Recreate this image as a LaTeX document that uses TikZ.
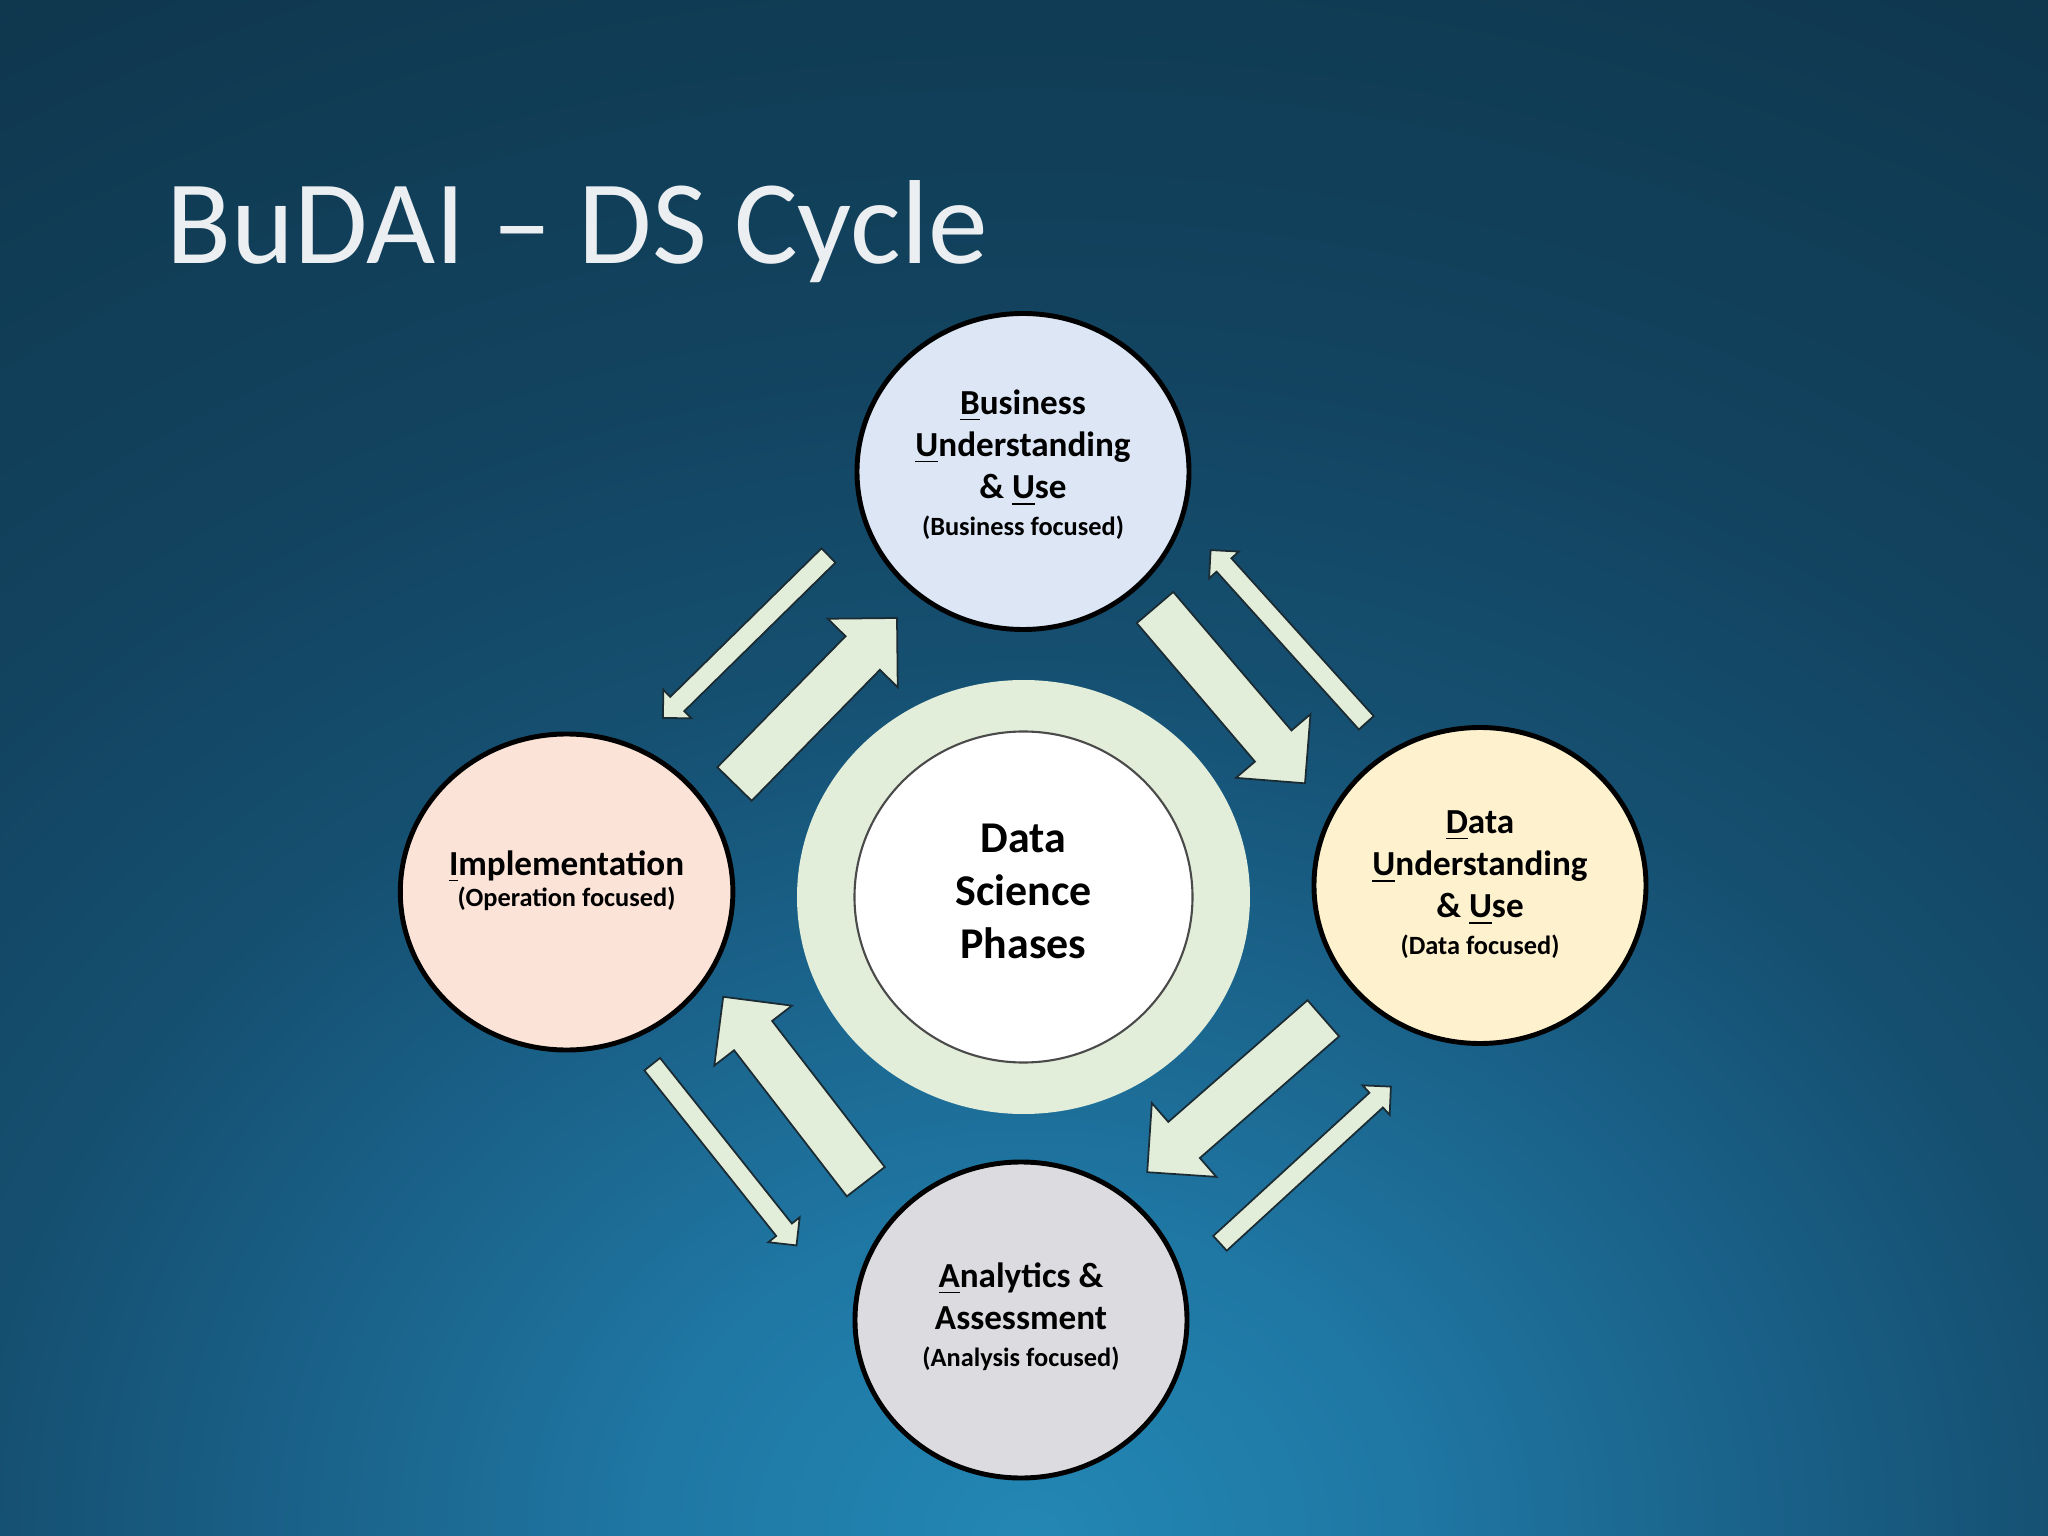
\documentclass[tikz,border=0pt]{standalone}
\usepackage{fontspec}
\setmainfont{Carlito}
\usepackage{tikz}
\usetikzlibrary{calc,shapes.geometric}

\definecolor{bgtop}{HTML}{0F374E}
\definecolor{bgmid}{HTML}{12435F}
\definecolor{bgdeep}{HTML}{154F70}
\definecolor{bglow}{HTML}{1A628A}
\definecolor{bgglow}{HTML}{1F77A3}
\definecolor{bghot}{HTML}{2387B4}
\definecolor{titlecol}{HTML}{ECEFF1}
\definecolor{arrgreen}{HTML}{E2EED9}
\definecolor{arrline}{HTML}{1B2B33}
\definecolor{hubline}{HTML}{4A4A4A}
\definecolor{bizblue}{HTML}{DCE6F5}
\definecolor{datayellow}{HTML}{FDF1CE}
\definecolor{implpeach}{HTML}{FBE3D7}
\definecolor{anagray}{HTML}{DCDBE0}

\pgfdeclareradialshading{slidebg}{\pgfpoint{0bp}{0bp}}{color(0bp)=(bghot); color(4bp)=(bgglow); color(7.5bp)=(bglow); color(11bp)=(bgdeep); color(15bp)=(bgmid); color(22bp)=(bgtop); color(50bp)=(bgtop)}

\newcommand{\focus}[1]{{\fontsize{7.5}{9}\selectfont #1}}
\newcommand{\lift}[1]{\rule[-#1]{0pt}{#1}}
\newcommand{\blockarrow}[4]{%
  \coordinate (hb) at ($(#2)!#4!(#1)$);
  \draw[arrowfill] ($(#1)!#3!90:(#2)$) -- ($(hb)!#3!90:(#2)$) -- ($(hb)!#4!90:(#2)$) -- (#2)
    -- ($(hb)!#4!-90:(#2)$) -- ($(hb)!#3!-90:(#2)$) -- ($(#1)!#3!-90:(#2)$) -- cycle;}

\begin{document}
\begin{tikzpicture}[
    phase/.style={ellipse, draw=black, line width=1.4pt, minimum width=3.32cm, minimum height=3.16cm,
      inner sep=0pt, align=center, font=\fontsize{10}{12}\selectfont\bfseries},
    arrowfill/.style={fill=arrgreen, draw=arrline, line width=0.5pt, line join=miter}]
  \useasboundingbox (0,0) rectangle (20.48,-15.36);
  \begin{scope}
    \clip (0,0) rectangle (20.48,-15.36);
    \shade[shading=slidebg] (10.3,-15.36) ellipse (24 and 20);
  \end{scope}

  \node[anchor=base west, inner sep=0pt, text=titlecol, font=\fontsize{34}{40}\selectfont] (title) at (1.66,-2.64) {BuDAI – DS Cycle};

  \node[ellipse, fill=arrgreen, minimum width=4.53cm, minimum height=4.34cm, inner sep=0pt] (ring) at (10.235,-8.97) {};
  \node[ellipse, fill=white, draw=hubline, line width=0.6pt, minimum width=3.38cm, minimum height=3.31cm,
    inner sep=0pt, align=center, font=\fontsize{12.5}{15}\selectfont\bfseries] (hub) at (ring.center) {Data\\Science\\Phases\lift{3.2pt}};

  \coordinate (tl1) at (7.345,-7.84);  \coordinate (tl2) at (8.97,-6.18);
  \coordinate (tl3) at (8.285,-5.555); \coordinate (tl4) at (6.63,-7.18);
  \coordinate (tr1) at (11.55,-6.075); \coordinate (tr2) at (13.05,-7.833);
  \coordinate (tr3) at (13.663,-7.228); \coordinate (tr4) at (12.106,-5.501);
  \coordinate (bl1) at (8.658,-11.817); \coordinate (bl2) at (7.232,-9.968);
  \coordinate (bl3) at (6.522,-10.642); \coordinate (bl4) at (7.965,-12.454);
  \coordinate (br1) at (13.233,-10.183); \coordinate (br2) at (11.472,-11.722);
  \coordinate (br3) at (12.20,-12.433); \coordinate (br4) at (13.909,-10.866);

  \blockarrow{tl1}{tl2}{0.24cm}{0.49cm}
  \blockarrow{tl3}{tl4}{0.10cm}{0.20cm}
  \blockarrow{tr1}{tr2}{0.24cm}{0.49cm}
  \blockarrow{tr3}{tr4}{0.10cm}{0.20cm}
  \blockarrow{bl1}{bl2}{0.24cm}{0.49cm}
  \blockarrow{bl3}{bl4}{0.10cm}{0.20cm}
  \blockarrow{br1}{br2}{0.24cm}{0.49cm}
  \blockarrow{br3}{br4}{0.10cm}{0.20cm}

  \node[phase, fill=bizblue] (biz) at (10.23,-4.715) {\underline{B}usiness\\\underline{U}nderstanding\\\& \underline{U}se\\[-1.5pt]\focus{(Business focused)}\lift{5pt}};
  \node[phase, fill=datayellow] (data) at (14.80,-8.855) {\underline{D}ata\\\underline{U}nderstanding\\\& \underline{U}se\\[-1.5pt]\focus{(Data focused)}\lift{1.5pt}};
  \node[phase, fill=implpeach] (impl) at (5.666,-8.92) {\underline{I}mplementation\\[-3pt]\focus{(Operation focused)}\lift{7.5pt}};
  \node[phase, fill=anagray] (ana) at (10.21,-13.20) {\underline{A}nalytics \&\\Assessment\\[-1.5pt]\focus{(Analysis focused)}\lift{3pt}};
\end{tikzpicture}
\end{document}
